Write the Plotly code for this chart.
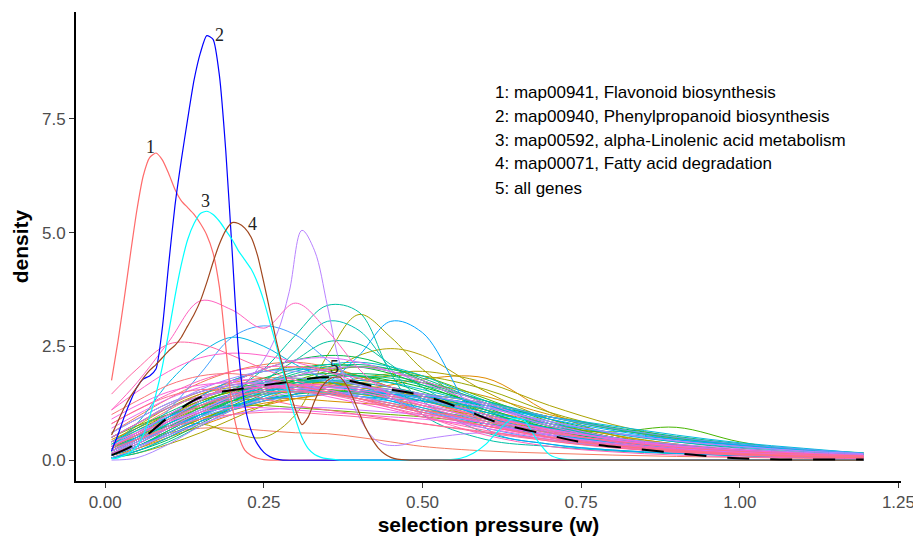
import math
import plotly.graph_objects as go

# ---------------- data ----------------
# common x grid for background pathway density curves
bg_x = [0.01, 0.05, 0.1, 0.15, 0.2, 0.25, 0.3, 0.35, 0.4, 0.45, 0.5, 0.6, 0.7, 0.8, 0.9, 1.0, 1.1, 1.195]

# background pathway densities (one list per pathway, in colour order)
bg_y = [
    [0.35, 0.7, 1.1, 1.45, 1.65, 1.75, 1.75, 1.7, 1.6, 1.45, 1.3, 0.95, 0.65, 0.42, 0.27, 0.17, 0.11, 0.08],
    [0.3, 0.45, 0.6, 0.7, 0.7, 0.65, 0.6, 0.58, 0.5, 0.4, 0.3, 0.2, 0.15, 0.11, 0.08, 0.06, 0.04, 0.03],
    [0.6, 0.95, 1.35, 1.7, 1.95, 2.1, 2.15, 2.05, 1.85, 1.6, 1.35, 0.9, 0.55, 0.33, 0.2, 0.12, 0.08, 0.05],
    [0.5, 0.8, 1.2, 1.5, 1.7, 1.8, 1.8, 1.7, 1.55, 1.35, 1.15, 0.8, 0.5, 0.3, 0.18, 0.1, 0.06, 0.04],
    [0.15, 0.4, 0.8, 1.15, 1.4, 1.55, 1.65, 1.7, 1.7, 1.6, 1.45, 1.1, 0.75, 0.5, 0.33, 0.22, 0.15, 0.1],
    [0.1, 0.25, 0.5, 0.75, 1.0, 1.2, 1.35, 1.45, 1.5, 1.5, 1.45, 1.25, 0.95, 0.7, 0.48, 0.33, 0.22, 0.15],
    [0.1, 0.3, 0.6, 0.9, 1.1, 1.25, 1.35, 1.45, 1.55, 1.65, 1.78, 1.8, 1.05, 0.55, 0.3, 0.18, 0.11, 0.08],
    [0.3, 0.6, 1.0, 1.3, 1.5, 1.6, 1.65, 1.65, 1.6, 1.5, 1.4, 1.1, 0.8, 0.55, 0.35, 0.22, 0.14, 0.1],
    [0.45, 0.7, 1.0, 1.2, 1.3, 1.35, 1.35, 1.3, 1.25, 1.2, 1.1, 0.9, 0.65, 0.45, 0.3, 0.2, 0.13, 0.09],
    [0.05, 0.25, 0.55, 0.85, 1.1, 1.3, 1.45, 1.6, 1.7, 1.75, 1.7, 1.4, 1.0, 0.7, 0.45, 0.3, 0.2, 0.14],
    [0.25, 0.55, 0.95, 1.3, 1.5, 1.6, 1.6, 1.55, 1.45, 1.35, 1.2, 0.9, 0.6, 0.38, 0.24, 0.15, 0.1, 0.07],
    [0.2, 0.5, 0.95, 1.4, 1.75, 1.95, 2.05, 2.0, 1.85, 1.6, 1.35, 0.85, 0.5, 0.3, 0.18, 0.11, 0.07, 0.05],
    [0.4, 0.75, 1.15, 1.45, 1.6, 1.65, 1.6, 1.55, 1.45, 1.35, 1.2, 0.95, 0.7, 0.5, 0.33, 0.2, 0.13, 0.09],
    [0.1, 0.3, 0.6, 0.9, 1.15, 1.35, 1.6, 1.9, 2.3, 2.45, 2.3, 1.5, 0.9, 0.55, 0.35, 0.22, 0.14, 0.1],
    [0.05, 0.15, 0.35, 0.6, 0.9, 1.2, 1.45, 1.65, 1.8, 1.9, 1.95, 1.7, 1.2, 0.78, 0.5, 0.32, 0.2, 0.14],
    [0.3, 0.55, 0.75, 0.8, 0.6, 0.5, 1.0, 2.3, 3.2, 2.7, 2.0, 1.0, 0.5, 0.3, 0.2, 0.13, 0.09, 0.06],
    [0.1, 0.3, 0.6, 0.9, 1.15, 1.3, 1.45, 1.6, 1.75, 1.85, 1.85, 1.55, 1.05, 0.7, 0.5, 0.35, 0.22, 0.15],
    [0.25, 0.5, 0.85, 1.15, 1.35, 1.45, 1.5, 1.5, 1.5, 1.5, 1.45, 1.25, 0.95, 0.68, 0.48, 0.34, 0.22, 0.15],
    [0.2, 0.45, 0.85, 1.2, 1.45, 1.6, 1.7, 1.7, 1.65, 1.55, 1.4, 1.05, 0.7, 0.45, 0.3, 0.2, 0.13, 0.09],
    [0.35, 0.65, 1.0, 1.3, 1.5, 1.65, 1.7, 1.7, 1.6, 1.5, 1.35, 1.0, 0.7, 0.45, 0.3, 0.2, 0.13, 0.09],
    [0.5, 0.75, 1.0, 1.15, 1.2, 1.2, 1.15, 1.1, 1.05, 1.0, 0.95, 0.8, 0.62, 0.45, 0.32, 0.22, 0.15, 0.1],
    [0.05, 0.2, 0.5, 0.85, 1.2, 1.5, 1.75, 1.95, 2.05, 2.0, 1.85, 1.35, 0.85, 0.5, 0.3, 0.18, 0.11, 0.07],
    [0.15, 0.4, 0.75, 1.05, 1.3, 1.45, 1.55, 1.55, 1.5, 1.4, 1.3, 1.0, 0.72, 0.62, 0.72, 0.4, 0.2, 0.12],
    [0.1, 0.3, 0.6, 0.95, 1.3, 1.6, 1.85, 2.0, 2.05, 1.95, 1.75, 1.25, 0.8, 0.5, 0.3, 0.19, 0.12, 0.08],
    [0.1, 0.3, 0.65, 1.0, 1.3, 1.55, 1.75, 1.85, 1.85, 1.75, 1.6, 1.2, 0.8, 0.5, 0.32, 0.2, 0.13, 0.09],
    [0.3, 0.55, 0.9, 1.25, 1.55, 1.8, 2.0, 2.1, 2.05, 1.9, 1.65, 1.15, 0.7, 0.42, 0.25, 0.15, 0.1, 0.07],
    [0.2, 0.45, 0.85, 1.3, 1.7, 2.0, 2.2, 2.3, 2.25, 2.05, 1.75, 1.1, 0.6, 0.32, 0.18, 0.1, 0.06, 0.04],
    [0.05, 0.2, 0.45, 0.8, 1.15, 1.45, 1.7, 1.85, 1.9, 1.85, 1.7, 1.3, 0.9, 0.6, 0.4, 0.26, 0.17, 0.12],
    [0.2, 0.45, 0.8, 1.15, 1.45, 1.7, 1.85, 1.9, 1.85, 1.7, 1.5, 1.05, 0.7, 0.45, 0.3, 0.2, 0.13, 0.09],
    [0.3, 0.5, 0.75, 1.0, 1.2, 1.35, 1.45, 1.5, 1.5, 1.45, 1.4, 1.2, 0.95, 0.72, 0.52, 0.36, 0.24, 0.16],
    [0.4, 0.7, 1.05, 1.35, 1.55, 1.7, 1.75, 1.75, 1.65, 1.5, 1.35, 1.0, 0.7, 0.48, 0.32, 0.21, 0.14, 0.1],
    [0.1, 0.3, 0.65, 1.0, 1.35, 1.65, 1.9, 2.05, 2.1, 2.0, 1.8, 1.25, 0.75, 0.45, 0.27, 0.17, 0.11, 0.08],
    [0.05, 0.15, 0.4, 0.75, 1.1, 1.4, 1.65, 1.8, 1.85, 1.8, 1.65, 1.3, 0.95, 0.68, 0.48, 0.34, 0.23, 0.15],
    [0.2, 0.45, 0.8, 1.1, 1.4, 1.75, 2.2, 2.6, 2.55, 2.1, 1.6, 0.9, 0.5, 0.3, 0.2, 0.13, 0.09, 0.06],
    [0.1, 0.3, 0.6, 0.95, 1.5, 2.0, 2.75, 3.4, 3.25, 1.9, 1.0, 0.45, 0.3, 0.2, 0.14, 0.1, 0.07, 0.05],
    [0.6, 0.9, 1.25, 1.5, 1.65, 1.7, 1.65, 1.55, 1.4, 1.25, 1.1, 0.8, 0.55, 0.38, 0.26, 0.18, 0.12, 0.08],
    [0.15, 0.4, 0.7, 1.0, 1.3, 1.7, 2.4, 3.05, 2.85, 2.0, 1.3, 0.6, 0.35, 0.22, 0.15, 0.1, 0.07, 0.05],
    [0.3, 0.55, 0.9, 1.2, 1.45, 1.6, 1.7, 1.75, 1.7, 1.6, 1.45, 1.1, 0.75, 0.5, 0.33, 0.22, 0.15, 0.11],
    [0.15, 0.35, 0.7, 1.05, 1.4, 1.7, 1.95, 2.1, 2.15, 2.05, 1.85, 1.3, 0.8, 0.48, 0.28, 0.17, 0.11, 0.07],
    [0.1, 0.3, 0.6, 0.95, 1.25, 1.5, 1.65, 1.75, 1.75, 1.7, 1.55, 1.2, 0.85, 0.58, 0.4, 0.28, 0.2, 0.14],
    [0.5, 0.8, 1.15, 1.4, 1.55, 1.6, 1.55, 1.45, 1.35, 1.2, 1.05, 0.8, 0.55, 0.38, 0.25, 0.17, 0.12, 0.09],
    [0.4, 0.65, 0.95, 1.2, 1.4, 1.5, 1.5, 1.45, 1.4, 1.35, 1.3, 1.15, 0.95, 0.75, 0.55, 0.38, 0.26, 0.15],
    [0.3, 0.8, 1.7, 2.35, 2.7, 2.5, 2.1, 1.75, 1.5, 1.3, 1.1, 0.8, 0.55, 0.35, 0.22, 0.14, 0.09, 0.06],
    [0.2, 0.45, 0.8, 1.1, 1.35, 1.5, 1.6, 1.6, 1.55, 1.45, 1.35, 1.05, 0.8, 0.6, 0.45, 0.33, 0.22, 0.15],
    [0.05, 0.2, 0.5, 0.85, 1.15, 1.4, 1.55, 1.6, 1.55, 1.45, 1.3, 1.0, 0.7, 0.48, 0.32, 0.21, 0.14, 0.1],
    [0.35, 0.6, 0.95, 1.25, 1.45, 1.55, 1.55, 1.5, 1.4, 1.3, 1.15, 0.85, 0.6, 0.4, 0.27, 0.18, 0.13, 0.1],
    [0.1, 0.35, 0.7, 1.0, 1.2, 1.35, 1.4, 1.45, 1.45, 1.45, 1.4, 1.2, 0.9, 0.65, 0.45, 0.32, 0.2, 0.14],
    [0.25, 0.5, 0.95, 1.4, 1.75, 1.95, 2.0, 1.95, 1.8, 1.6, 1.4, 0.95, 0.6, 0.37, 0.22, 0.14, 0.09, 0.06],
    [0.1, 0.3, 0.55, 0.85, 1.1, 1.3, 1.45, 1.7, 2.3, 3.05, 2.8, 0.7, 0.35, 0.22, 0.15, 0.1, 0.07, 0.05],
    [0.2, 0.5, 1.1, 1.9, 2.7, 2.95, 2.75, 2.2, 1.7, 1.35, 1.1, 0.7, 0.45, 0.28, 0.18, 0.12, 0.08, 0.06],
    [0.2, 0.4, 0.7, 0.95, 1.15, 1.3, 1.4, 1.45, 1.5, 1.5, 1.45, 1.25, 0.95, 0.7, 0.5, 0.35, 0.24, 0.15],
    [0.3, 0.6, 1.0, 1.35, 1.6, 1.75, 1.8, 1.75, 1.65, 1.5, 1.35, 1.0, 0.68, 0.45, 0.3, 0.2, 0.13, 0.09],
    [0.05, 0.25, 0.6, 0.95, 1.25, 1.45, 1.55, 1.6, 1.6, 1.55, 1.45, 1.15, 0.85, 0.6, 0.42, 0.3, 0.2, 0.14],
    [0.5, 0.8, 1.2, 1.55, 1.8, 1.95, 1.95, 1.85, 1.65, 1.45, 1.25, 0.85, 0.55, 0.35, 0.22, 0.14, 0.09, 0.06],
    [0.0, 0.05, 0.35, 0.75, 1.1, 1.35, 1.5, 1.6, 1.6, 1.55, 1.45, 1.15, 0.85, 0.6, 0.42, 0.3, 0.2, 0.14],
    None,  # tall purple curve, drawn from its own grid below
    [0.1, 0.3, 0.55, 0.8, 1.0, 1.1, 1.15, 1.15, 1.1, 1.05, 1.0, 0.85, 0.65, 0.48, 0.35, 0.25, 0.17, 0.12],
    [0.6, 0.9, 1.25, 1.5, 1.65, 1.7, 1.65, 1.55, 1.4, 1.25, 1.1, 0.8, 0.55, 0.37, 0.25, 0.17, 0.12, 0.09],
    [0.15, 0.4, 0.75, 1.1, 1.4, 1.65, 1.85, 2.0, 2.05, 1.95, 1.75, 1.25, 0.8, 0.5, 0.3, 0.18, 0.11, 0.07],
    [0.3, 0.55, 0.9, 1.3, 1.7, 2.0, 2.2, 2.25, 2.15, 1.95, 1.7, 1.2, 0.75, 0.45, 0.27, 0.16, 0.1, 0.07],
    [0.3, 0.6, 1.0, 1.35, 1.55, 1.65, 1.6, 1.5, 1.35, 1.2, 1.05, 0.75, 0.5, 0.33, 0.22, 0.15, 0.1, 0.07],
    [0.7, 1.0, 1.35, 1.6, 1.75, 1.75, 1.65, 1.5, 1.35, 1.2, 1.05, 0.75, 0.5, 0.32, 0.2, 0.13, 0.09, 0.06],
    [0.4, 0.6, 0.85, 1.05, 1.15, 1.15, 1.1, 1.05, 1.0, 0.95, 0.9, 0.75, 0.58, 0.43, 0.31, 0.22, 0.15, 0.1],
    [0.2, 0.45, 0.85, 1.2, 1.45, 1.6, 1.65, 1.6, 1.5, 1.35, 1.2, 0.9, 0.62, 0.42, 0.28, 0.19, 0.13, 0.09],
    [0.9, 1.2, 1.5, 1.65, 1.7, 1.65, 1.55, 1.4, 1.25, 1.1, 0.95, 0.7, 0.48, 0.32, 0.21, 0.14, 0.1, 0.07],
    [0.15, 0.35, 0.7, 1.05, 1.35, 1.55, 1.65, 1.65, 1.55, 1.4, 1.25, 0.95, 0.68, 0.47, 0.32, 0.22, 0.15, 0.1],
    [1.1, 1.5, 1.95, 2.25, 2.35, 2.3, 2.15, 1.95, 1.7, 1.45, 1.2, 0.8, 0.5, 0.3, 0.18, 0.11, 0.07, 0.05],
    [1.1, 1.7, 2.6, 3.5, 3.3, 2.9, 3.45, 2.85, 2.0, 1.4, 1.0, 0.55, 0.3, 0.18, 0.11, 0.07, 0.05, 0.03],
    [0.8, 1.1, 1.45, 1.75, 1.95, 2.05, 2.05, 1.95, 1.8, 1.6, 1.4, 1.0, 0.65, 0.4, 0.24, 0.14, 0.09, 0.06],
    [0.5, 0.8, 1.15, 1.4, 1.55, 1.6, 1.55, 1.45, 1.3, 1.15, 1.0, 0.75, 0.52, 0.35, 0.23, 0.15, 0.1, 0.07],
    [1.45, 2.0, 2.55, 2.55, 2.3, 2.0, 1.75, 1.55, 1.35, 1.15, 0.95, 0.65, 0.42, 0.27, 0.17, 0.11, 0.07, 0.05],
    [0.25, 0.45, 0.7, 0.9, 1.0, 1.05, 1.05, 1.0, 0.95, 0.88, 0.8, 0.62, 0.45, 0.32, 0.22, 0.15, 0.1, 0.07],
    [0.8, 1.1, 1.4, 1.55, 1.5, 1.35, 1.2, 1.1, 1.0, 0.9, 0.8, 0.6, 0.42, 0.28, 0.18, 0.12, 0.08, 0.06],
    [0.3, 0.55, 0.9, 1.2, 1.4, 1.5, 1.5, 1.45, 1.35, 1.25, 1.1, 0.85, 0.6, 0.42, 0.28, 0.19, 0.13, 0.09],
    [1.0, 1.3, 1.65, 1.85, 1.9, 1.8, 1.65, 1.5, 1.35, 1.2, 1.05, 0.75, 0.5, 0.32, 0.2, 0.13, 0.08, 0.05],
]

# tall purple background pathway
purple_x = [0.01, 0.05, 0.1, 0.15, 0.2, 0.24, 0.27, 0.29, 0.31, 0.33, 0.35, 0.37, 0.4, 0.43, 0.46, 0.5, 0.6, 0.7, 0.8, 0.9, 1.0, 1.1, 1.195]
purple_y = [0.3, 0.55, 0.85, 1.1, 1.45, 2.0, 2.75, 3.7, 5.05, 4.6, 3.4, 2.1, 0.95, 0.4, 0.32, 0.45, 0.6, 0.45, 0.3, 0.2, 0.13, 0.09, 0.06]

# highlighted pathways (x = selection pressure, y = density)
p1_x = [0.01, 0.02, 0.03, 0.04, 0.05, 0.06, 0.07, 0.08, 0.09, 0.1, 0.11, 0.12, 0.13, 0.14, 0.15, 0.16, 0.17, 0.18,
        0.19, 0.2, 0.21, 0.22, 0.23, 0.24, 0.25, 0.26, 0.28, 0.4, 0.6, 0.8, 1.0, 1.195]
p1_y = [1.75, 2.6, 3.55, 4.55, 5.5, 6.25, 6.65, 6.75, 6.6, 6.3, 5.95, 5.7, 5.55, 5.4, 5.2, 4.95, 4.55, 3.8,
        2.5, 1.2, 0.55, 0.22, 0.1, 0.04, 0.01, 0.0, 0.0, 0.0, 0.0, 0.0, 0.0, 0.0]

p2_x = [0.01, 0.02, 0.03, 0.04, 0.05, 0.06, 0.07, 0.08, 0.09, 0.1, 0.11, 0.12, 0.13, 0.14, 0.15, 0.16, 0.17,
        0.18, 0.19, 0.2, 0.21, 0.22, 0.23, 0.24, 0.25, 0.26, 0.27, 0.28, 0.4, 0.6, 0.8, 1.0, 1.195]
p2_y = [0.2, 0.55, 0.95, 1.3, 1.6, 1.78, 1.85, 2.0, 2.9, 4.3, 5.6, 6.6, 7.5, 8.35, 8.95, 9.33, 9.25,
        8.45, 6.8, 4.6, 2.4, 1.2, 0.65, 0.35, 0.17, 0.07, 0.02, 0.0, 0.0, 0.0, 0.0, 0.0, 0.0]

p3_x = [0.01, 0.02, 0.03, 0.04, 0.05, 0.06, 0.07, 0.08, 0.09, 0.1, 0.11, 0.12, 0.13, 0.14, 0.15, 0.16, 0.17,
        0.18, 0.19, 0.2, 0.21, 0.22, 0.23, 0.24, 0.25, 0.26, 0.27, 0.28, 0.29, 0.3, 0.31, 0.32, 0.33, 0.34,
        0.35, 0.37, 0.45, 0.53, 0.56, 0.58, 0.6, 0.62, 0.64, 0.66, 0.68, 0.7, 0.72, 0.75, 0.85, 1.0, 1.195]
p3_y = [0.03, 0.05, 0.1, 0.18, 0.3, 0.55, 0.95, 1.45, 2.05, 2.8, 3.6, 4.3, 4.85, 5.2, 5.42, 5.47, 5.4,
        5.25, 5.05, 4.85, 4.6, 4.4, 4.2, 3.9, 3.5, 3.0, 2.5, 1.95, 1.4, 0.9, 0.5, 0.25, 0.12, 0.06,
        0.03, 0.0, 0.0, 0.0, 0.04, 0.15, 0.35, 0.65, 0.9, 0.88, 0.45, 0.12, 0.02, 0.0, 0.0, 0.0, 0.0]

p4_x = [0.01, 0.02, 0.03, 0.04, 0.05, 0.06, 0.07, 0.08, 0.09, 0.1, 0.11, 0.12, 0.13, 0.14, 0.15, 0.16, 0.17,
        0.18, 0.19, 0.2, 0.21, 0.22, 0.23, 0.24, 0.25, 0.26, 0.27, 0.28, 0.29, 0.3, 0.31, 0.32, 0.33, 0.34,
        0.35, 0.36, 0.37, 0.38, 0.39, 0.4, 0.41, 0.42, 0.43, 0.44, 0.45, 0.46, 0.48, 0.6, 0.8, 1.0, 1.195]
p4_y = [0.55, 0.85, 1.15, 1.4, 1.6, 1.8, 1.97, 2.1, 2.25, 2.4, 2.52, 2.7, 2.95, 3.2, 3.5, 3.9, 4.35,
        4.75, 5.05, 5.22, 5.2, 5.1, 4.9, 4.5, 3.9, 3.25, 2.6, 2.05, 1.55, 1.1, 0.78, 0.95, 1.3, 1.58,
        1.75, 1.82, 1.82, 1.65, 1.38, 1.05, 0.72, 0.47, 0.27, 0.14, 0.06, 0.02, 0.0, 0.0, 0.0, 0.0, 0.0]

all_x = [0.01, 0.045, 0.1, 0.15, 0.22, 0.29, 0.35, 0.43, 0.5, 0.56, 0.62, 0.69, 0.76, 0.84, 0.91, 0.98, 1.05, 1.195]
all_y = [0.11, 0.33, 0.94, 1.38, 1.58, 1.72, 1.82, 1.6, 1.42, 1.14, 0.82, 0.58, 0.37, 0.24, 0.14, 0.05, 0.02, 0.01]

label_text = ["1", "2", "3", "4", "5"]
label_x = [0.071, 0.1795, 0.1575, 0.2315, 0.3606]
label_y = [6.88, 9.34, 5.69, 5.19, 2.04]

legend_lines = [
    "1: map00941, Flavonoid biosynthesis",
    "2: map00940, Phenylpropanoid biosynthesis",
    "3: map00592, alpha-Linolenic acid metabolism",
    "4: map00071, Fatty acid degradation",
    "5: all genes",
]
legend_x = 0.611
legend_y = [8.07, 7.56, 7.03, 6.51, 5.96]


# ---------------- ggplot-like hue palette ----------------
def hcl_hex(h, c=100.0, l=65.0):
    hr = math.radians(h)
    U = c * math.cos(hr)
    V = c * math.sin(hr)
    Xn, Yn, Zn = 95.047, 100.0, 108.883
    Y = Yn * ((l + 16) / 116) ** 3 if l > 8 else Yn * l / 903.3
    den = Xn + 15 * Yn + 3 * Zn
    un, vn = 4 * Xn / den, 9 * Yn / den
    u = U / (13 * l) + un
    v = V / (13 * l) + vn
    X = 9.0 * Y * u / (4 * v)
    Z = -X / 3 - 5 * Y + 3 * Y / v
    X, Y, Z = X / 100, Y / 100, Z / 100
    r = 3.240479 * X - 1.537150 * Y - 0.498535 * Z
    g = -0.969256 * X + 1.875992 * Y + 0.041556 * Z
    b = 0.055648 * X - 0.204043 * Y + 1.057311 * Z

    def gam(t):
        t = 12.92 * t if t <= 0.0031308 else 1.055 * t ** (1 / 2.4) - 0.055
        return int(round(min(1, max(0, t)) * 255))

    return "#%02X%02X%02X" % (gam(r), gam(g), gam(b))


n_bg = len(bg_y)
palette = [hcl_hex(15 + 360 * i / n_bg) for i in range(n_bg)]

fig = go.Figure()

for i, ys in enumerate(bg_y):
    if ys is None:
        xs, ys = purple_x, purple_y
    else:
        xs = bg_x
    fig.add_trace(go.Scatter(
        x=xs, y=ys, mode="lines", line=dict(color=palette[i], width=1, shape="spline", smoothing=1.0),
        showlegend=False, hoverinfo="skip"))

highlights = [
    (p1_x, p1_y, "#FF6B6B"),
    (p2_x, p2_y, "#0000FF"),
    (p3_x, p3_y, "#00FFFF"),
    (p4_x, p4_y, "#A0461E"),
]
for xs, ys, col in highlights:
    fig.add_trace(go.Scatter(
        x=xs, y=ys, mode="lines", line=dict(color=col, width=1.2, shape="spline", smoothing=0.6),
        showlegend=False, hoverinfo="skip"))

fig.add_trace(go.Scatter(
    x=all_x, y=all_y, mode="lines",
    line=dict(color="black", width=2, dash="22px,21px", shape="spline", smoothing=1.0),
    showlegend=False, hoverinfo="skip"))

annotations = []
for t, x, y in zip(label_text, label_x, label_y):
    annotations.append(dict(x=x, y=y, xref="x", yref="y", text=t, showarrow=False,
                            font=dict(family="Liberation Serif", size=18, color="#222222")))
for t, y in zip(legend_lines, legend_y):
    annotations.append(dict(x=legend_x, y=y, xref="x", yref="y", text=t, showarrow=False,
                            xanchor="left", yanchor="middle",
                            font=dict(family="Liberation Sans", size=17, color="black")))

axis_common = dict(
    showgrid=False, zeroline=False, showline=True, linecolor="black", linewidth=1.8,
    ticks="outside", ticklen=5, tickwidth=1.1, tickcolor="#333333", automargin=False,
    tickfont=dict(family="Liberation Sans", size=17, color="#4D4D4D"),
    title_font=dict(family="Liberation Sans", size=21, color="black"),
)

# the page body adds an 8px offset, so the figure is 8px smaller than the window
fig.update_layout(
    width=913, height=532,
    margin=dict(l=68, r=20, t=4, b=59),
    paper_bgcolor="white", plot_bgcolor="white",
    xaxis=dict(range=[-0.046, 1.254], tickvals=[0, 0.25, 0.5, 0.75, 1.0, 1.25],
               ticktext=["0.00", "0.25", "0.50", "0.75", "1.00", "1.25"],
               title=dict(text="<b>selection pressure (w)</b>", standoff=6), **axis_common),
    yaxis=dict(range=[-0.46, 9.85], tickvals=[0, 2.5, 5.0, 7.5],
               ticktext=["0.0", "2.5", "5.0", "7.5"],
               title=dict(text="<b>density</b>", standoff=8), **axis_common),
    annotations=annotations,
    showlegend=False,
)

fig.write_html("out.html")
